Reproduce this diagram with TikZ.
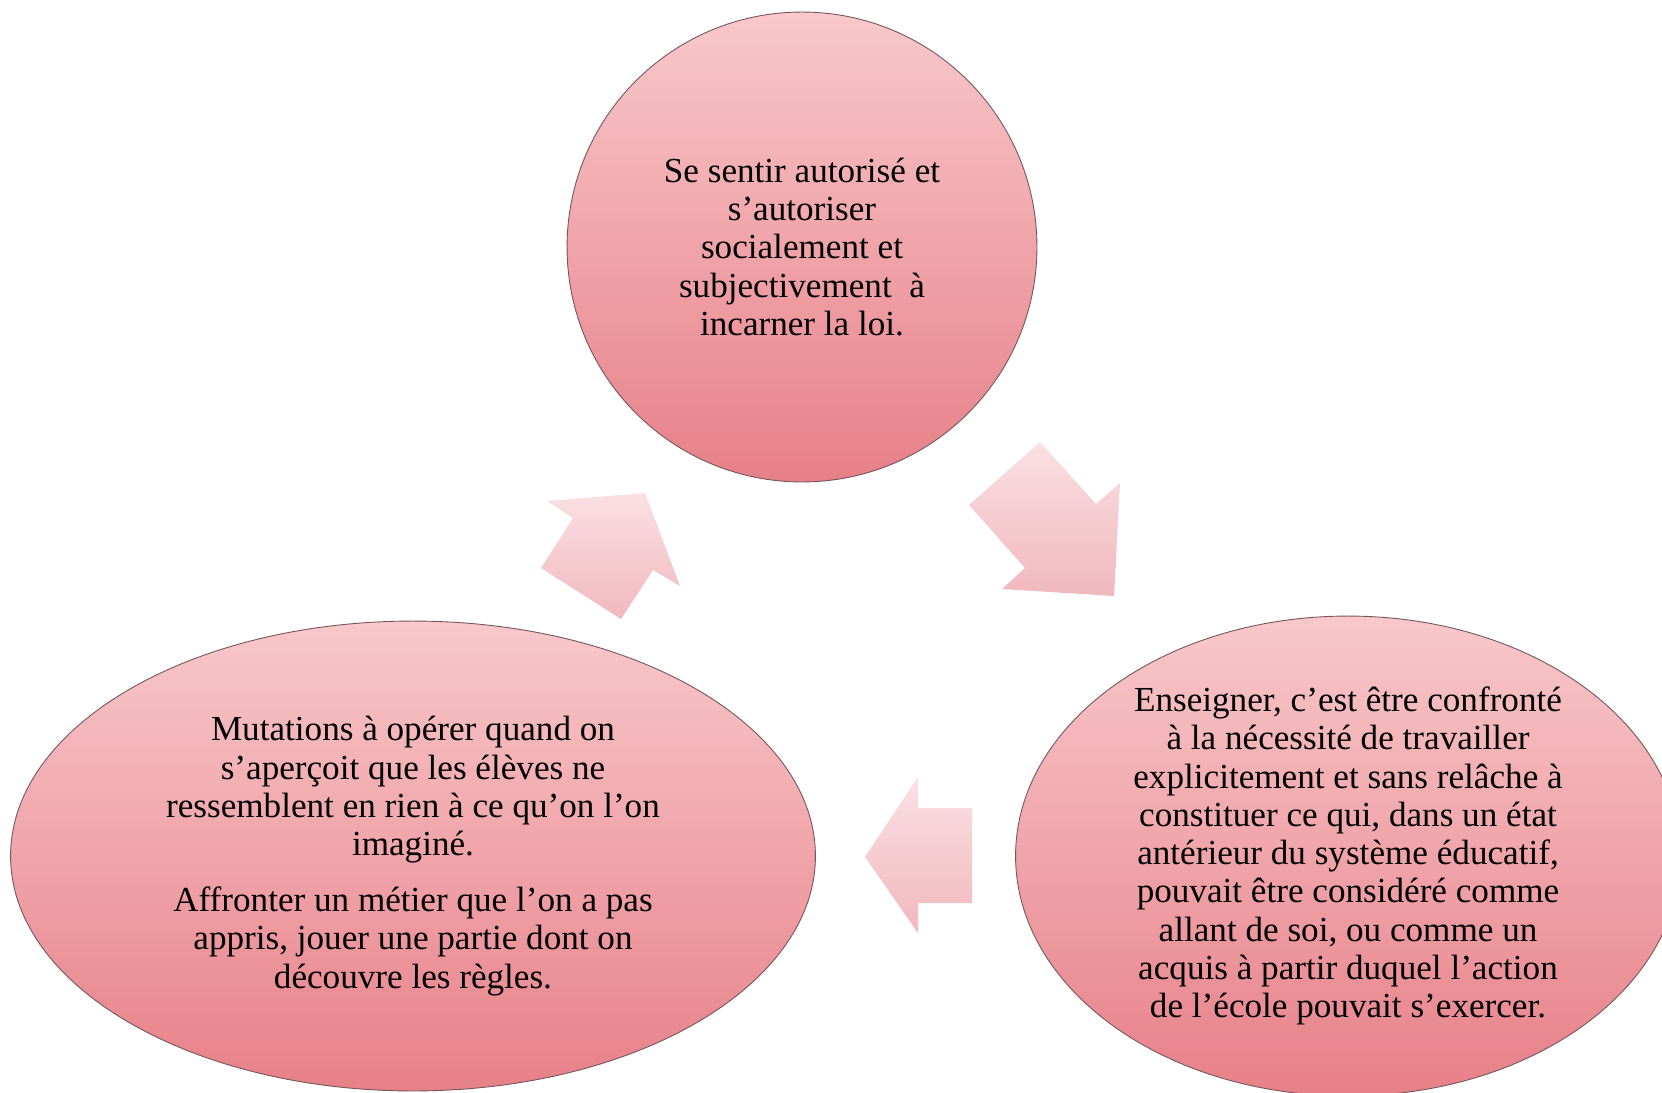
\documentclass[tikz,border=0pt]{standalone}
\usepackage{fontspec}
\setmainfont{Liberation Serif}
\usetikzlibrary{shapes.geometric}
\definecolor{bubtop}{RGB}{248,200,203}
\definecolor{bubbot}{RGB}{231,128,136}
\definecolor{arrtop}{RGB}{250,224,227}
\definecolor{arrbot}{RGB}{240,184,190}
\definecolor{edge}{RGB}{115,85,88}
\tikzset{
  bubble/.style={ellipse, inner sep=0pt, draw=edge, line width=0.5pt,
    top color=bubtop, bottom color=bubbot, align=center,
    font=\fontsize{20}{21.8}\selectfont, text=black},
  blockarrow/.style={top color=arrtop, bottom color=arrbot, draw=none}
}
\begin{document}
\begin{tikzpicture}[x=0.02cm, y=-0.02cm]
\path[use as bounding box] (0,0) rectangle (1662,1092);
\clip (0,0) rectangle (1662,1092);
\fill[white] (0,0) rectangle (1662,1092);

% block arrows
\path[blockarrow] (1040,442) -- (1096,504) -- (1120,483) -- (1114,596) -- (1002,589) -- (1025,568) -- (969,505) -- cycle;
\path[blockarrow] (865,857) -- (918,777) -- (918,808) -- (972,808) -- (972,903) -- (918,903) -- (918,933) -- cycle;
\path[blockarrow] (547,501) -- (645,493) -- (680,586) -- (653,570) -- (621,619) -- (541,568) -- (573,518) -- cycle;

% bubbles
\node[bubble, minimum width=9.4cm, minimum height=9.4cm] (top) at (802,247)
  {Se sentir autorisé et\\ s’autoriser\\ socialement et\\ subjectivement\ \ à\\ incarner la loi.};
\node[bubble, minimum width=16.1cm, minimum height=9.4cm] (left) at (413,856)
  {Mutations à opérer quand on\\ s’aperçoit que les élèves ne\\ ressemblent en rien à ce qu’on l’on\\ imaginé.\\[10pt]
   Affronter un métier que l’on a pas\\ appris, jouer une partie dont on\\ découvre les règles.};
\node[bubble, minimum width=13.3cm, minimum height=9.6cm] (right) at (1348,856)
  {Enseigner, c’est être confronté\\ à la nécessité de travailler\\ explicitement et sans relâche à\\
   constituer ce qui, dans un état\\ antérieur du système éducatif,\\ pouvait être considéré comme\\
   allant de soi, ou comme un\\ acquis à partir duquel l’action\\ de l’école pouvait s’exercer.};
\end{tikzpicture}
\end{document}
